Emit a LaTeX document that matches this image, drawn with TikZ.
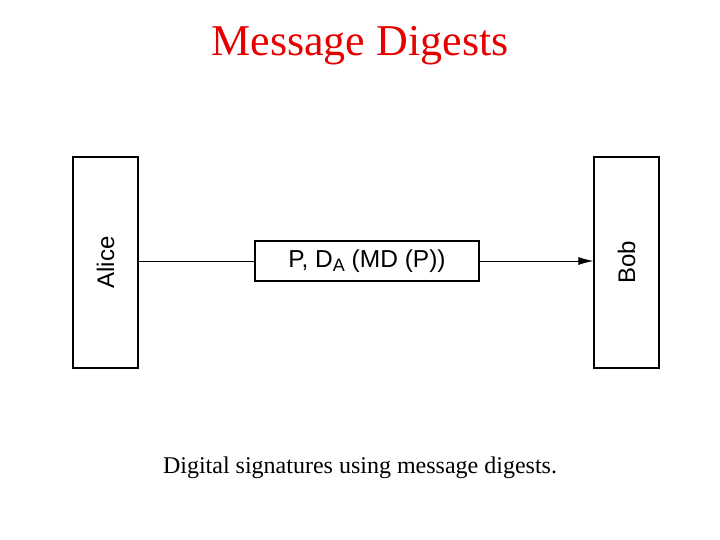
\documentclass[tikz,border=0pt]{standalone}
\usepackage{fontspec}
\setmainfont{Liberation Serif}
\setsansfont{Liberation Sans}
\usetikzlibrary{arrows.meta}
\definecolor{titlered}{RGB}{230,0,0}
\begin{document}
\begin{tikzpicture}[x=1pt,y=-1pt,
  party/.style={draw, line width=1.2pt, minimum width=65pt, minimum height=211pt, inner sep=0pt},
  msg/.style={draw, line width=1.2pt, minimum width=224pt, minimum height=40pt, inner sep=0pt, font=\sffamily\fontsize{24.5}{28}\selectfont},
  conn/.style={line width=0.9pt},
  tip/.style={-{Latex[length=15pt,width=8pt]}},
  lbl/.style={font=\sffamily\fontsize{24}{28}\selectfont, rotate=90}]
\useasboundingbox (0,0) rectangle (720,540);
\node[font=\fontsize{44}{50}\selectfont, text=titlered] (title) at (360,46) {Message Digests};
\node[party] (alice) at (105.5,262.5) {};
\node[lbl] (alicel) at (alice.center) {Alice};
\node[party] (bob) at (626.5,262.5) {};
\node[lbl] (bobl) at (bob.center) {Bob};
\node[msg] (m) at (367,261) {\raisebox{-1pt}{P, D\raisebox{-0.3ex}{\fontsize{18}{20}\selectfont A} (MD (P))}};
\draw[conn] (alice.east |- m.west) -- (m.west);
\draw[conn, tip] (m.east) -- (bob.west |- m.east);
\node[font=\fontsize{24}{28}\selectfont] (cap) at (360,468) {Digital signatures using message digests.};
\end{tikzpicture}
\end{document}
